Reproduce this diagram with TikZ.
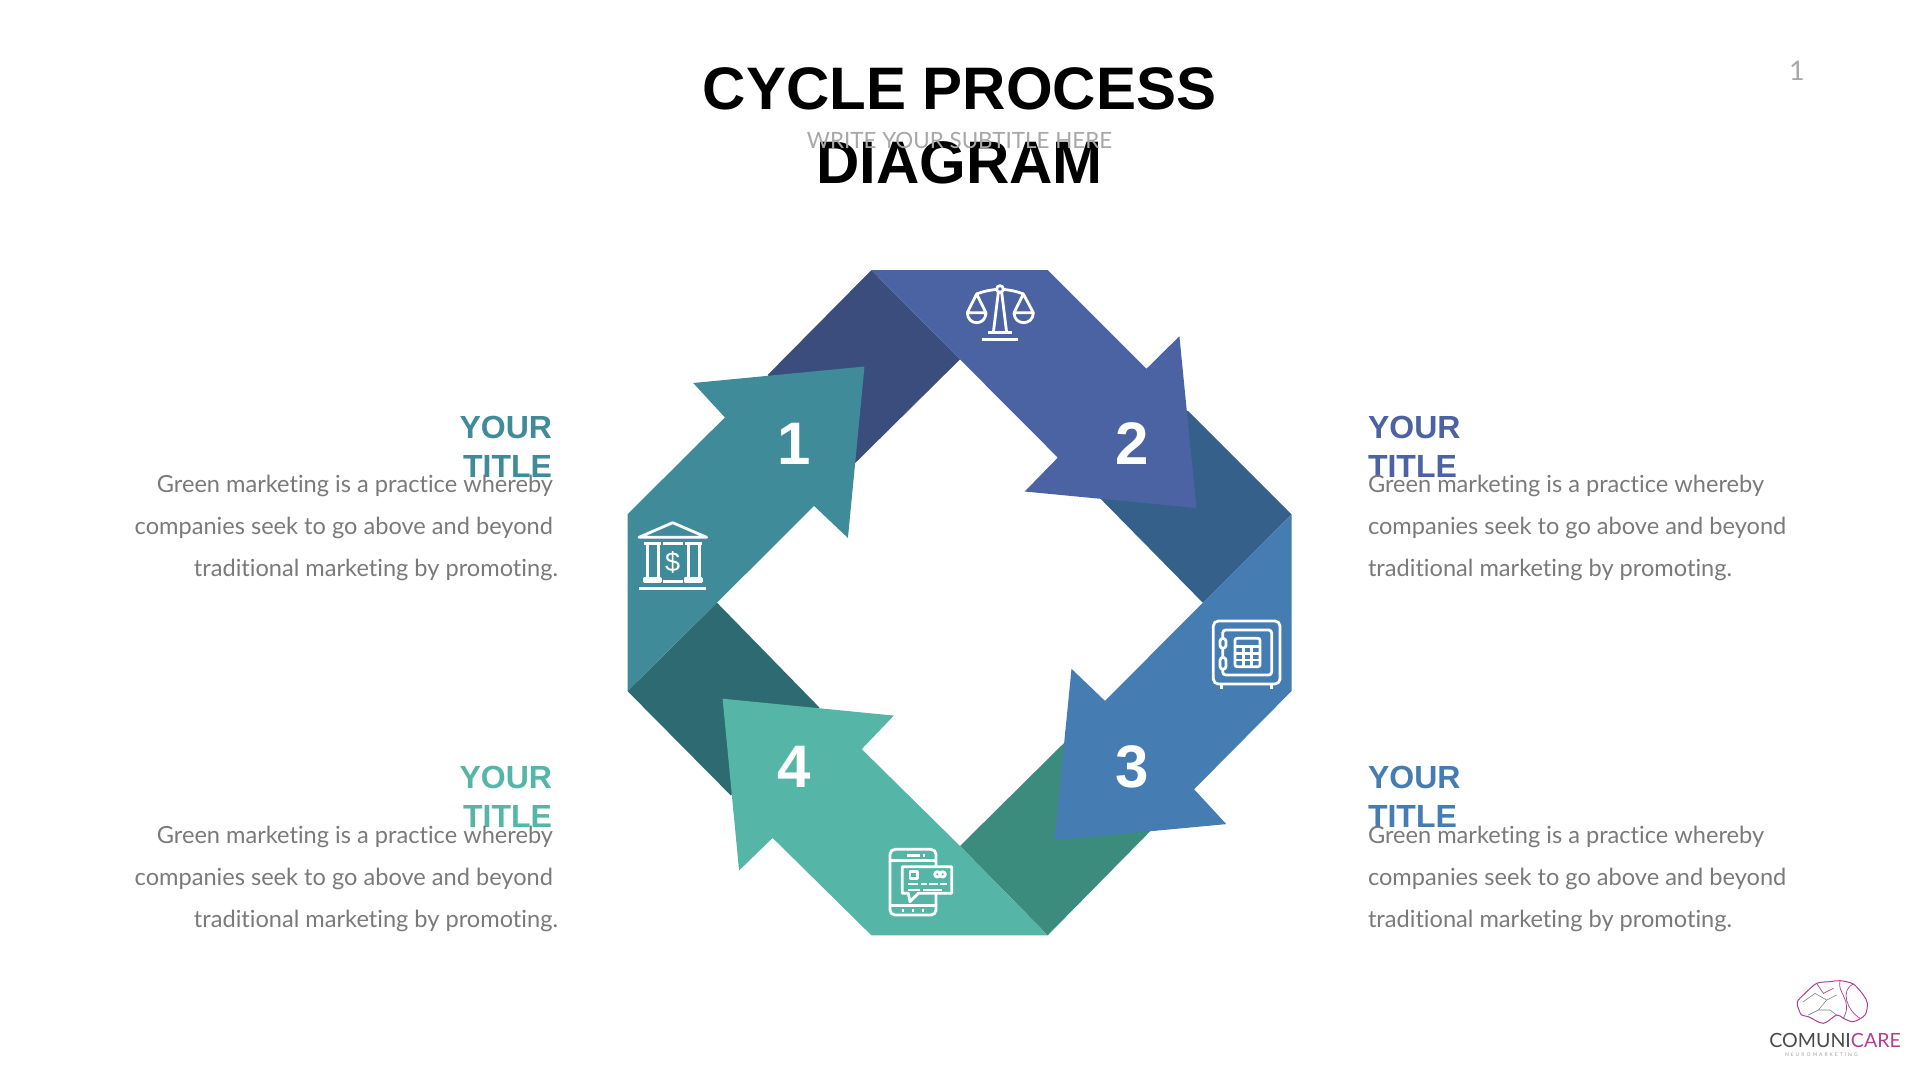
\documentclass[tikz,border=0pt]{standalone}
\usepackage{xcolor}
\usepackage{fontspec}
\usetikzlibrary{positioning}
\setmainfont{Liberation Sans}
\newfontfamily\latofont[Ligatures=NoCommon]{Lato}
\newfontfamily\latowide[LetterSpace=40]{Lato}
\definecolor{ringteal}{HTML}{3F8B9A}
\definecolor{ringblue}{HTML}{4C63A3}
\definecolor{ringsteel}{HTML}{457CB2}
\definecolor{ringmint}{HTML}{55B6A7}
\definecolor{bandteal}{HTML}{2E6A72}
\definecolor{bandblue}{HTML}{3A4D7C}
\definecolor{bandsteel}{HTML}{34608A}
\definecolor{bandmint}{HTML}{3C8C7E}
\definecolor{greytext}{HTML}{7A7A7A}
\definecolor{greysub}{HTML}{A8A8A8}
\definecolor{logodark}{HTML}{4A4A4E}
\definecolor{logopink}{HTML}{B0408F}

\begin{document}
\begin{tikzpicture}[
    x=1pt, y=-1pt,
    every node/.style = {inner sep=0pt, outer sep=0pt},
    mainhead/.style = {align=center, font=\bfseries\fontsize{60}{74}\selectfont},
    subhead/.style = {text=greysub, font=\latofont\fontsize{22.4}{28}\selectfont},
    numlabel/.style = {text=white, font=\bfseries\fontsize{60}{70}\selectfont},
    headleft/.style = {align=right, font=\bfseries\fontsize{32}{39}\selectfont},
    headright/.style = {align=left, font=\bfseries\fontsize{32}{39}\selectfont},
    bodytext/.style = {text=greytext, font=\latofont\fontsize{23.6}{42}\selectfont},
    iconline/.style = {draw=white, line width=2.8pt, line join=round},
    iconzoom/.style = {x=0.3333pt, y=-0.3333pt},
]
\useasboundingbox (0,0) rectangle (1920,1080);

% Dark bands
\fill[bandblue]  (871.4,270.1) -- (960,359.4) -- (854.8,463.4) -- (767.6,375) -- cycle;
\fill[bandsteel] (1291.5,514.3) -- (1202.8,602.7) -- (1100.5,498.7) -- (1187.7,410.7) -- cycle;
\fill[bandmint]  (1047.7,935.3) -- (960,846) -- (1063.7,743.3) -- (1151,830.4) -- cycle;
\fill[bandteal]  (627.5,691.1) -- (717,602.7) -- (819.5,707.6) -- (730.9,795.5) -- cycle;

% Arrows
\fill[ringteal]  (627.5,691.1) -- (627.5,514.3) -- (724.9,417.4) -- (693.2,383) -- (864.5,366.5)
    -- (847.9,538) -- (814,505.8) -- (717,602.7) -- cycle;
\fill[ringblue]  (871.4,270.1) -- (1047.7,270.1) -- (1146.4,368.8) -- (1179.4,336.2) -- (1196.4,508)
    -- (1024.7,491.5) -- (1057.8,457.6) -- (960,359.4) -- cycle;
\fill[ringsteel] (1291.5,514.3) -- (1291.5,691.1) -- (1194.1,789.3) -- (1226.3,824.1) -- (1054.5,840.2)
    -- (1071.5,668.8) -- (1105,700.9) -- (1202.8,602.7) -- cycle;
\fill[ringmint]  (1047.7,935.3) -- (871.4,935.3) -- (772.6,837.9) -- (739.1,870.5) -- (722.6,698.7)
    -- (893.8,715.6) -- (861.7,749.1) -- (960,846) -- cycle;

% Numbers
\node[numlabel] (num1) at (794,443.5) {1};
\node[numlabel] (num2) at (1132.5,443.5) {2};
\node[numlabel] (num3) at (1132.5,767) {3};
\node[numlabel] (num4) at (794.5,767) {4};

% Bank icon
\begin{scope}[shift={(620,510)}, iconzoom]
\draw[iconline] (57,82) -- (158,38) -- (260,82) -- cycle;
\draw[iconline] (72,100) -- (122,100) (82,100) -- (82,205) (115,100) -- (115,205);
\draw[iconline] (72,215) -- (72,205) -- (122,205) -- (122,215) -- cycle;
\draw[iconline] (195,100) -- (245,100) (205,100) -- (205,205) (238,100) -- (238,205);
\draw[iconline] (195,215) -- (195,205) -- (245,205) -- (245,215) -- cycle;
\draw[iconline] (128,100) -- (188,100) (128,215) -- (188,215) (57,236) -- (258,236);
\node[text=white, font=\fontsize{27}{30}\selectfont] (bankdollar) at (158,158) {\$};
\end{scope}

% Scales icon
\begin{scope}[shift={(950,270)}, iconzoom]
\draw[iconline] (150,57) circle (10);
\draw[iconline] (80,72) .. controls (105,62) and (125,60) .. (140,58);
\draw[iconline] (220,72) .. controls (195,62) and (175,60) .. (160,58);
\draw[iconline] (52,128) -- (80,72) -- (108,128) -- cycle;
\draw[iconline] (52,128) .. controls (52,168) and (108,168) .. (108,128);
\draw[iconline] (192,128) -- (220,72) -- (250,128) -- cycle;
\draw[iconline] (192,128) .. controls (192,168) and (250,168) .. (250,128);
\draw[iconline] (145,67) -- (130,188) (155,67) -- (170,188);
\draw[iconline] (113,188) -- (187,188);
\draw[iconline] (95,208) -- (205,208);
\end{scope}

% Safe icon
\begin{scope}[shift={(1200,610)}, iconzoom]
\draw[iconline, rounded corners=5pt] (40,33) rectangle (240,222);
\draw[iconline, rounded corners=3pt] (68,60) rectangle (215,195);
\draw[iconline] (65,222) -- (65,236) (215,222) -- (215,236);
\draw[iconline, fill=ringsteel, rounded corners=3pt] (60,85) rectangle (78,115);
\draw[iconline, fill=ringsteel, rounded corners=3pt] (60,142) rectangle (78,178);
\draw[iconline, rounded corners=2pt] (105,85) rectangle (180,170);
\draw[iconline] (105,110) -- (180,110) (105,130) -- (180,130) (105,150) -- (180,150);
\draw[iconline] (130,110) -- (130,170) (155,110) -- (155,170);
\end{scope}

% Phone icon
\begin{scope}[shift={(880,840)}, iconzoom]
\draw[iconline, rounded corners=5pt] (30,28) rectangle (168,225);
\draw[iconline] (30,62) -- (168,62) (30,197) -- (168,197);
\draw[iconline] (80,46) -- (120,46) (128,46) -- (134,46);
\draw[iconline] (67,212) -- (73,212) (97,212) -- (103,212) (127,212) -- (133,212);
\draw[iconline, fill=ringmint] (67,80) -- (215,80) -- (215,160) -- (115,160) -- (90,185) -- (85,160) -- (67,160) -- cycle;
\draw[iconline] (90,95) rectangle (112,115);
\draw[iconline] (172,103) circle (8) (188,103) circle (8);
\draw[iconline] (85,132) -- (115,132) (122,132) -- (140,132) (148,132) -- (175,132) (180,132) -- (200,132);
\draw[iconline] (85,150) -- (120,150) (130,150) -- (185,150);
\end{scope}

% Title
\node[mainhead] (maintitle) at (959.5,125.5) {CYCLE PROCESS\\DIAGRAM};
\node[subhead] (subtitle) at (959.5,140.5) {WRITE YOUR SUBTITLE HERE};
\node[text=greysub, font=\latofont\fontsize{27}{30}\selectfont] (pagenum) at (1797,71) {1};

% Side titles
\node[headleft, text=ringteal, anchor=north east] (head1) at (552,416) {YOUR\\TITLE};
\node[headright, text=ringblue, anchor=north west] (head2) at (1368,416) {YOUR\\TITLE};
\node[headright, text=ringsteel, below=289pt of head2.south west, anchor=north west] (head3) {YOUR\\TITLE};
\node[headleft, text=ringmint, below=289pt of head1.south east, anchor=north east] (head4) {YOUR\\TITLE};

% Body text
\node[bodytext, align=right, below=-2pt of head1.south east, anchor=north east, xshift=1pt] (body1)
    {Green marketing is a practice whereby\\companies seek to go above and beyond\\traditional marketing by promoting.\hspace*{-5pt}};
\node[bodytext, align=left, below=-2pt of head2.south west, anchor=north west] (body2)
    {Green marketing is a practice whereby\\companies seek to go above and beyond\\traditional marketing by promoting.};
\node[bodytext, align=left, below=-2pt of head3.south west, anchor=north west] (body3)
    {Green marketing is a practice whereby\\companies seek to go above and beyond\\traditional marketing by promoting.};
\node[bodytext, align=right, below=-2pt of head4.south east, anchor=north east, xshift=1pt] (body4)
    {Green marketing is a practice whereby\\companies seek to go above and beyond\\traditional marketing by promoting.\hspace*{-5pt}};

% Logo
\begin{scope}[shift={(1740,960)}, iconzoom]
\draw[logopink, line width=1pt] plot[smooth cycle] coordinates {(175,145) (172,125) (195,100) (230,70) (270,65) (300,62) (340,72) (370,105) (382,130) (375,165) (340,185) (310,175) (290,165) (250,190) (205,170) (185,165)};
\draw[logodark!70, line width=0.6pt] (190,125) -- (225,100) -- (260,120) -- (235,150) -- (205,165) (235,150) -- (270,150) -- (290,165) (260,120) -- (290,105);
\draw[logopink, line width=0.7pt] (300,62) .. controls (290,100) and (340,120) .. (310,175) (340,72) .. controls (300,90) and (320,150) .. (360,175) (230,70) -- (250,100) -- (280,85);
\node[anchor=base west, font=\latofont\fontsize{19.6}{22}\selectfont] (logoname) at (88,262) {\textcolor{logodark}{COMUNI}\textcolor{logopink}{CARE}};
\node[anchor=base west, text=logodark!50, font=\latowide\fontsize{5}{6}\selectfont] (logotag) at (135,290) {NEUROMARKETING};
\end{scope}
\end{tikzpicture}
\end{document}
